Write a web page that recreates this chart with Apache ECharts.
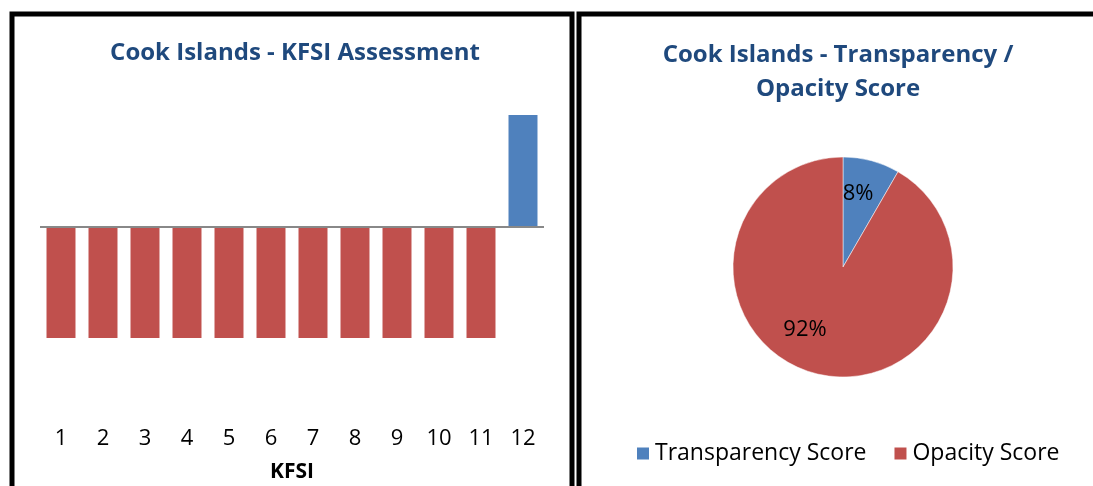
<!DOCTYPE html>
<html>
<head>
<meta charset="utf-8">
<script src="https://cdn.jsdelivr.net/npm/echarts@6/dist/echarts.min.js"></script>
<style>
  html, body { margin: 0; padding: 0; background: #fff; }
  #chart { width: 1093px; height: 486px; }
</style>
</head>
<body>
<div id="chart"></div>
<script>
// KFSI assessment: 1 = transparent, -1 = opaque
const kfsiCategories = ['1', '2', '3', '4', '5', '6', '7', '8', '9', '10', '11', '12']
const kfsiValues = [-1, -1, -1, -1, -1, -1, -1, -1, -1, -1, -1, 1]

// pie slices
const pieNames = ['Transparency Score', 'Opacity Score']
const pieValues = [1, 11]

const BLUE = '#4F81BD'
const RED = '#C0504D'
const TITLE = '#1F497D'
const FONT = 'Open Sans'

const chart = echarts.init(document.getElementById('chart'))

chart.setOption({
  animation: false,
  textStyle: { fontFamily: FONT },
  graphic: [
    {
      type: 'rect',
      shape: { x: 12, y: 14, width: 560, height: 520 },
      style: { fill: 'none', stroke: '#000', lineWidth: 5 }
    },
    {
      type: 'rect',
      shape: { x: 579, y: 14, width: 600, height: 520 },
      style: { fill: 'none', stroke: '#000', lineWidth: 5 }
    }
  ],
  title: [
    {
      text: 'Cook Islands - KFSI Assessment',
      left: 290,
      top: 36,
      textAlign: 'center',
      textStyle: { color: TITLE, fontSize: 24, fontWeight: 'bold', fontFamily: FONT }
    },
    {
      text: 'Cook Islands - Transparency /\nOpacity Score',
      left: 833,
      top: 33,
      textAlign: 'center',
      textStyle: { color: TITLE, fontSize: 24, fontWeight: 'bold', fontFamily: FONT, lineHeight: 34 }
    }
  ],
  legend: {
    data: pieNames,
    left: 630,
    top: 437,
    itemWidth: 14,
    itemHeight: 14,
    itemGap: 26,
    icon: 'rect',
    textStyle: { fontSize: 23, color: '#000', fontFamily: FONT }
  },
  grid: {
    left: 40,
    top: 115,
    width: 504,
    height: 223,
    outerBoundsMode: 'none',
    containLabel: false
  },
  xAxis: {
    type: 'category',
    data: kfsiCategories,
    axisLine: { show: false },
    axisTick: { show: false },
    axisLabel: { margin: 90, fontSize: 22, color: '#000' },
    name: 'KFSI',
    nameLocation: 'middle',
    nameGap: 124,
    nameTextStyle: { fontSize: 21, fontWeight: 'bold', color: '#000' }
  },
  yAxis: {
    type: 'value',
    min: -1,
    max: 1,
    show: false
  },
  series: [
    {
      type: 'bar',
      data: kfsiValues,
      barCategoryGap: '31%',
      itemStyle: {
        color: p => (p.value >= 0 ? BLUE : RED)
      },
      markLine: {
        silent: true,
        symbol: 'none',
        label: { show: false },
        lineStyle: { color: '#888', width: 2, type: 'solid' },
        data: [{ yAxis: 0 }]
      }
    },
    {
      type: 'pie',
      center: [843, 267],
      radius: 110,
      startAngle: 90,
      clockwise: true,
      percentPrecision: 0,
      label: {
        show: true,
        position: 'inside',
        formatter: '{d}%',
        fontSize: 22,
        color: '#000',
        fontFamily: FONT
      },
      labelLine: { show: false },
      itemStyle: { borderColor: '#fff', borderWidth: 0.5 },
      data: [
        { name: pieNames[0], value: pieValues[0], itemStyle: { color: BLUE }, label: { offset: [0, -17] } },
        { name: pieNames[1], value: pieValues[1], itemStyle: { color: RED }, label: { offset: [-23, 7] } }
      ]
    }
  ]
})
</script>
</body>
</html>
